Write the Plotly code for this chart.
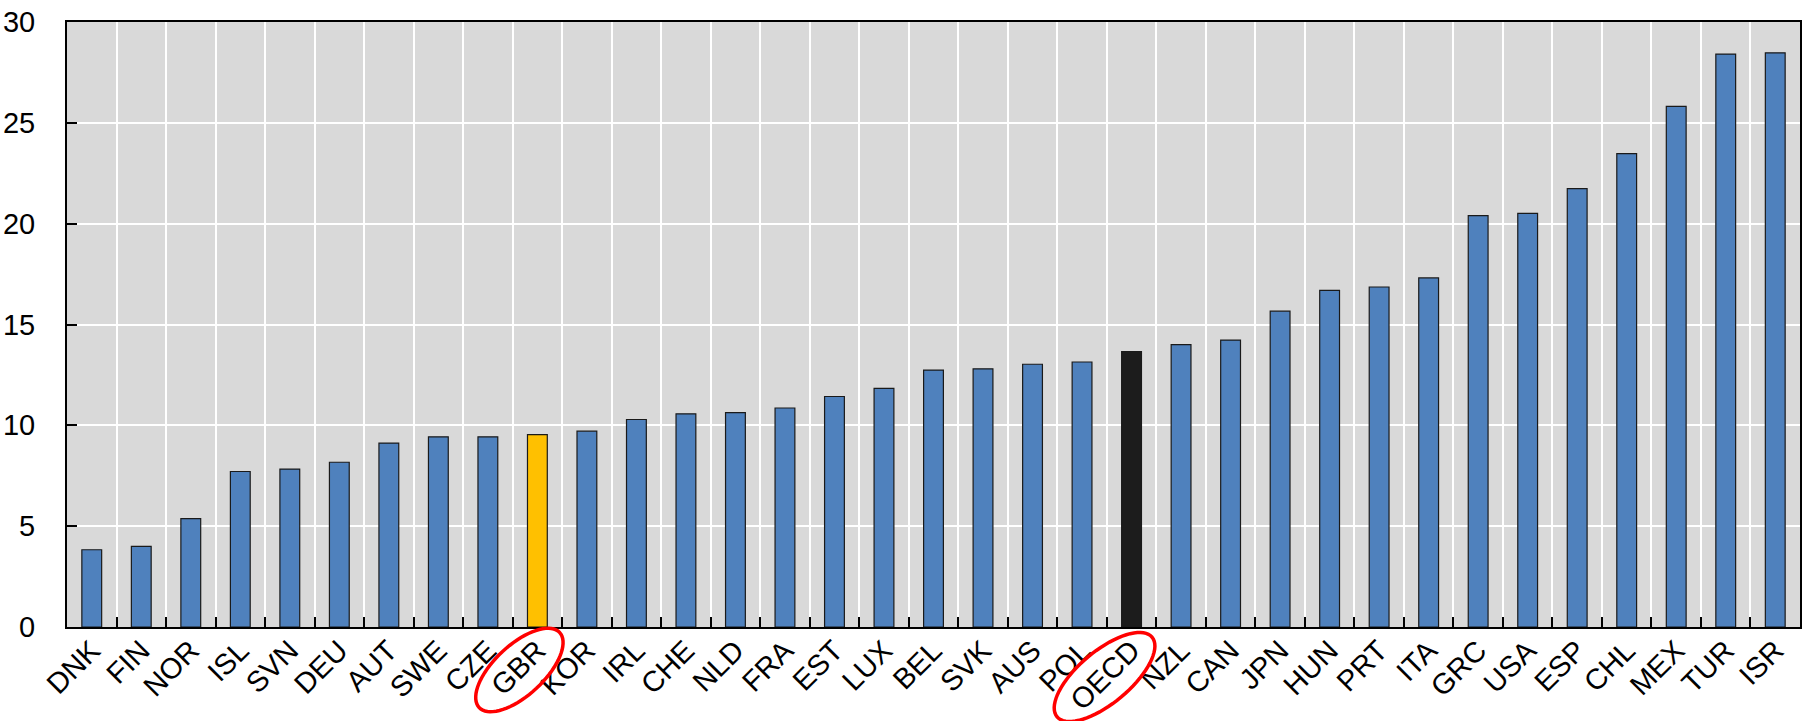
import numpy as np
import plotly.graph_objects as go

# ---- data ----
countries = ["DNK", "FIN", "NOR", "ISL", "SVN", "DEU", "AUT", "SWE", "CZE", "GBR",
             "KOR", "IRL", "CHE", "NLD", "FRA", "EST", "LUX", "BEL", "SVK", "AUS",
             "POL", "OECD", "NZL", "CAN", "JPN", "HUN", "PRT", "ITA", "GRC", "USA",
             "ESP", "CHL", "MEX", "TUR", "ISR"]
values = [3.83, 4.00, 5.37, 7.71, 7.83, 8.17, 9.12, 9.43, 9.43, 9.54,
          9.71, 10.29, 10.57, 10.63, 10.86, 11.43, 11.83, 12.74, 12.80, 13.03,
          13.14, 13.66, 14.00, 14.23, 15.66, 16.69, 16.86, 17.31, 20.40, 20.51,
          21.74, 23.47, 25.82, 28.41, 28.47]
y_ticks = [0, 5, 10, 15, 20, 25, 30]
highlight = {"GBR": "#FFC000", "OECD": "#1C1C1C"}
circled = ["GBR", "OECD"]

BLUE = "#4F81BD"
colors = [highlight.get(c, BLUE) for c in countries]

# ---- layout geometry (pixels) ----
W, H = 1808, 721
ML, MR, MT, MB = 67, 8, 22, 94
PW, PH = W - ML - MR, H - MT - MB

FONT = "Liberation Sans, Arial, sans-serif"
FSY = 29
FSX = 29

fig = go.Figure()
fig.add_trace(go.Bar(
    x=countries, y=values,
    width=0.40,
    marker=dict(color=colors, line=dict(color="#1a1a1a", width=1.2)),
    hoverinfo="x+y",
))

# ---- red ellipses around highlighted labels ----
# per label: (dx, dy) offset of ellipse centre from tick/axis point, semi-axes a,b, angle deg
ell_style = {"GBR": (-18, 43, 55, 25, 43), "OECD": (-27, 50, 62, 26, 40)}
n = len(countries)
for name in circled:
    i = countries.index(name)
    dx, dy, a, b, ang = ell_style[name]
    cx = ML + (i + 0.5) * PW / n + dx
    cy = MT + PH + dy
    t = np.linspace(0, 2 * np.pi, 73)
    th = np.deg2rad(ang)
    px = cx + a * np.cos(t) * np.cos(th) + b * np.sin(t) * np.sin(th)
    py = cy - a * np.cos(t) * np.sin(th) + b * np.sin(t) * np.cos(th)
    xp = (px - ML) / PW
    yp = (MT + PH - py) / PH
    path = "M " + " L ".join(f"{x:.5f},{y:.5f}" for x, y in zip(xp, yp)) + " Z"
    fig.add_shape(type="path", path=path, xref="paper", yref="paper",
                  line=dict(color="#FF0000", width=3.5), layer="above")

fig.update_layout(
    width=W, height=H,
    margin=dict(l=ML, r=MR, t=MT, b=MB, pad=0, autoexpand=False),
    paper_bgcolor="white",
    plot_bgcolor="#D9D9D9",
    showlegend=False,
    font=dict(family=FONT, size=FSY, color="black"),
    bargap=0.6,
)
fig.update_xaxes(
    type="category",
    automargin=False,
    tickson="boundaries",
    ticks="inside", ticklen=10, tickwidth=2, tickcolor="black",
    tickangle=-45,
    showgrid=True, gridcolor="white", gridwidth=2,
    showline=True, linecolor="black", linewidth=2, mirror=True,
    tickfont=dict(family=FONT, size=FSX, color="black"),
    ticklabelstandoff=-7,
    range=[-0.5, n - 0.5],
)
fig.update_yaxes(
    automargin=False,
    range=[0, 30],
    tickvals=y_ticks,
    ticks="inside", ticklen=10, tickwidth=2, tickcolor="black",
    showgrid=True, gridcolor="white", gridwidth=2,
    showline=True, linecolor="black", linewidth=2, mirror=True,
    zeroline=False,
    tickfont=dict(family=FONT, size=FSY, color="black"),
    ticklabelstandoff=24,
)

fig.write_html(
    "out.html",
    config={"displayModeBar": False},
    post_script="document.body.style.margin='0';document.body.style.overflow='hidden';",
)
